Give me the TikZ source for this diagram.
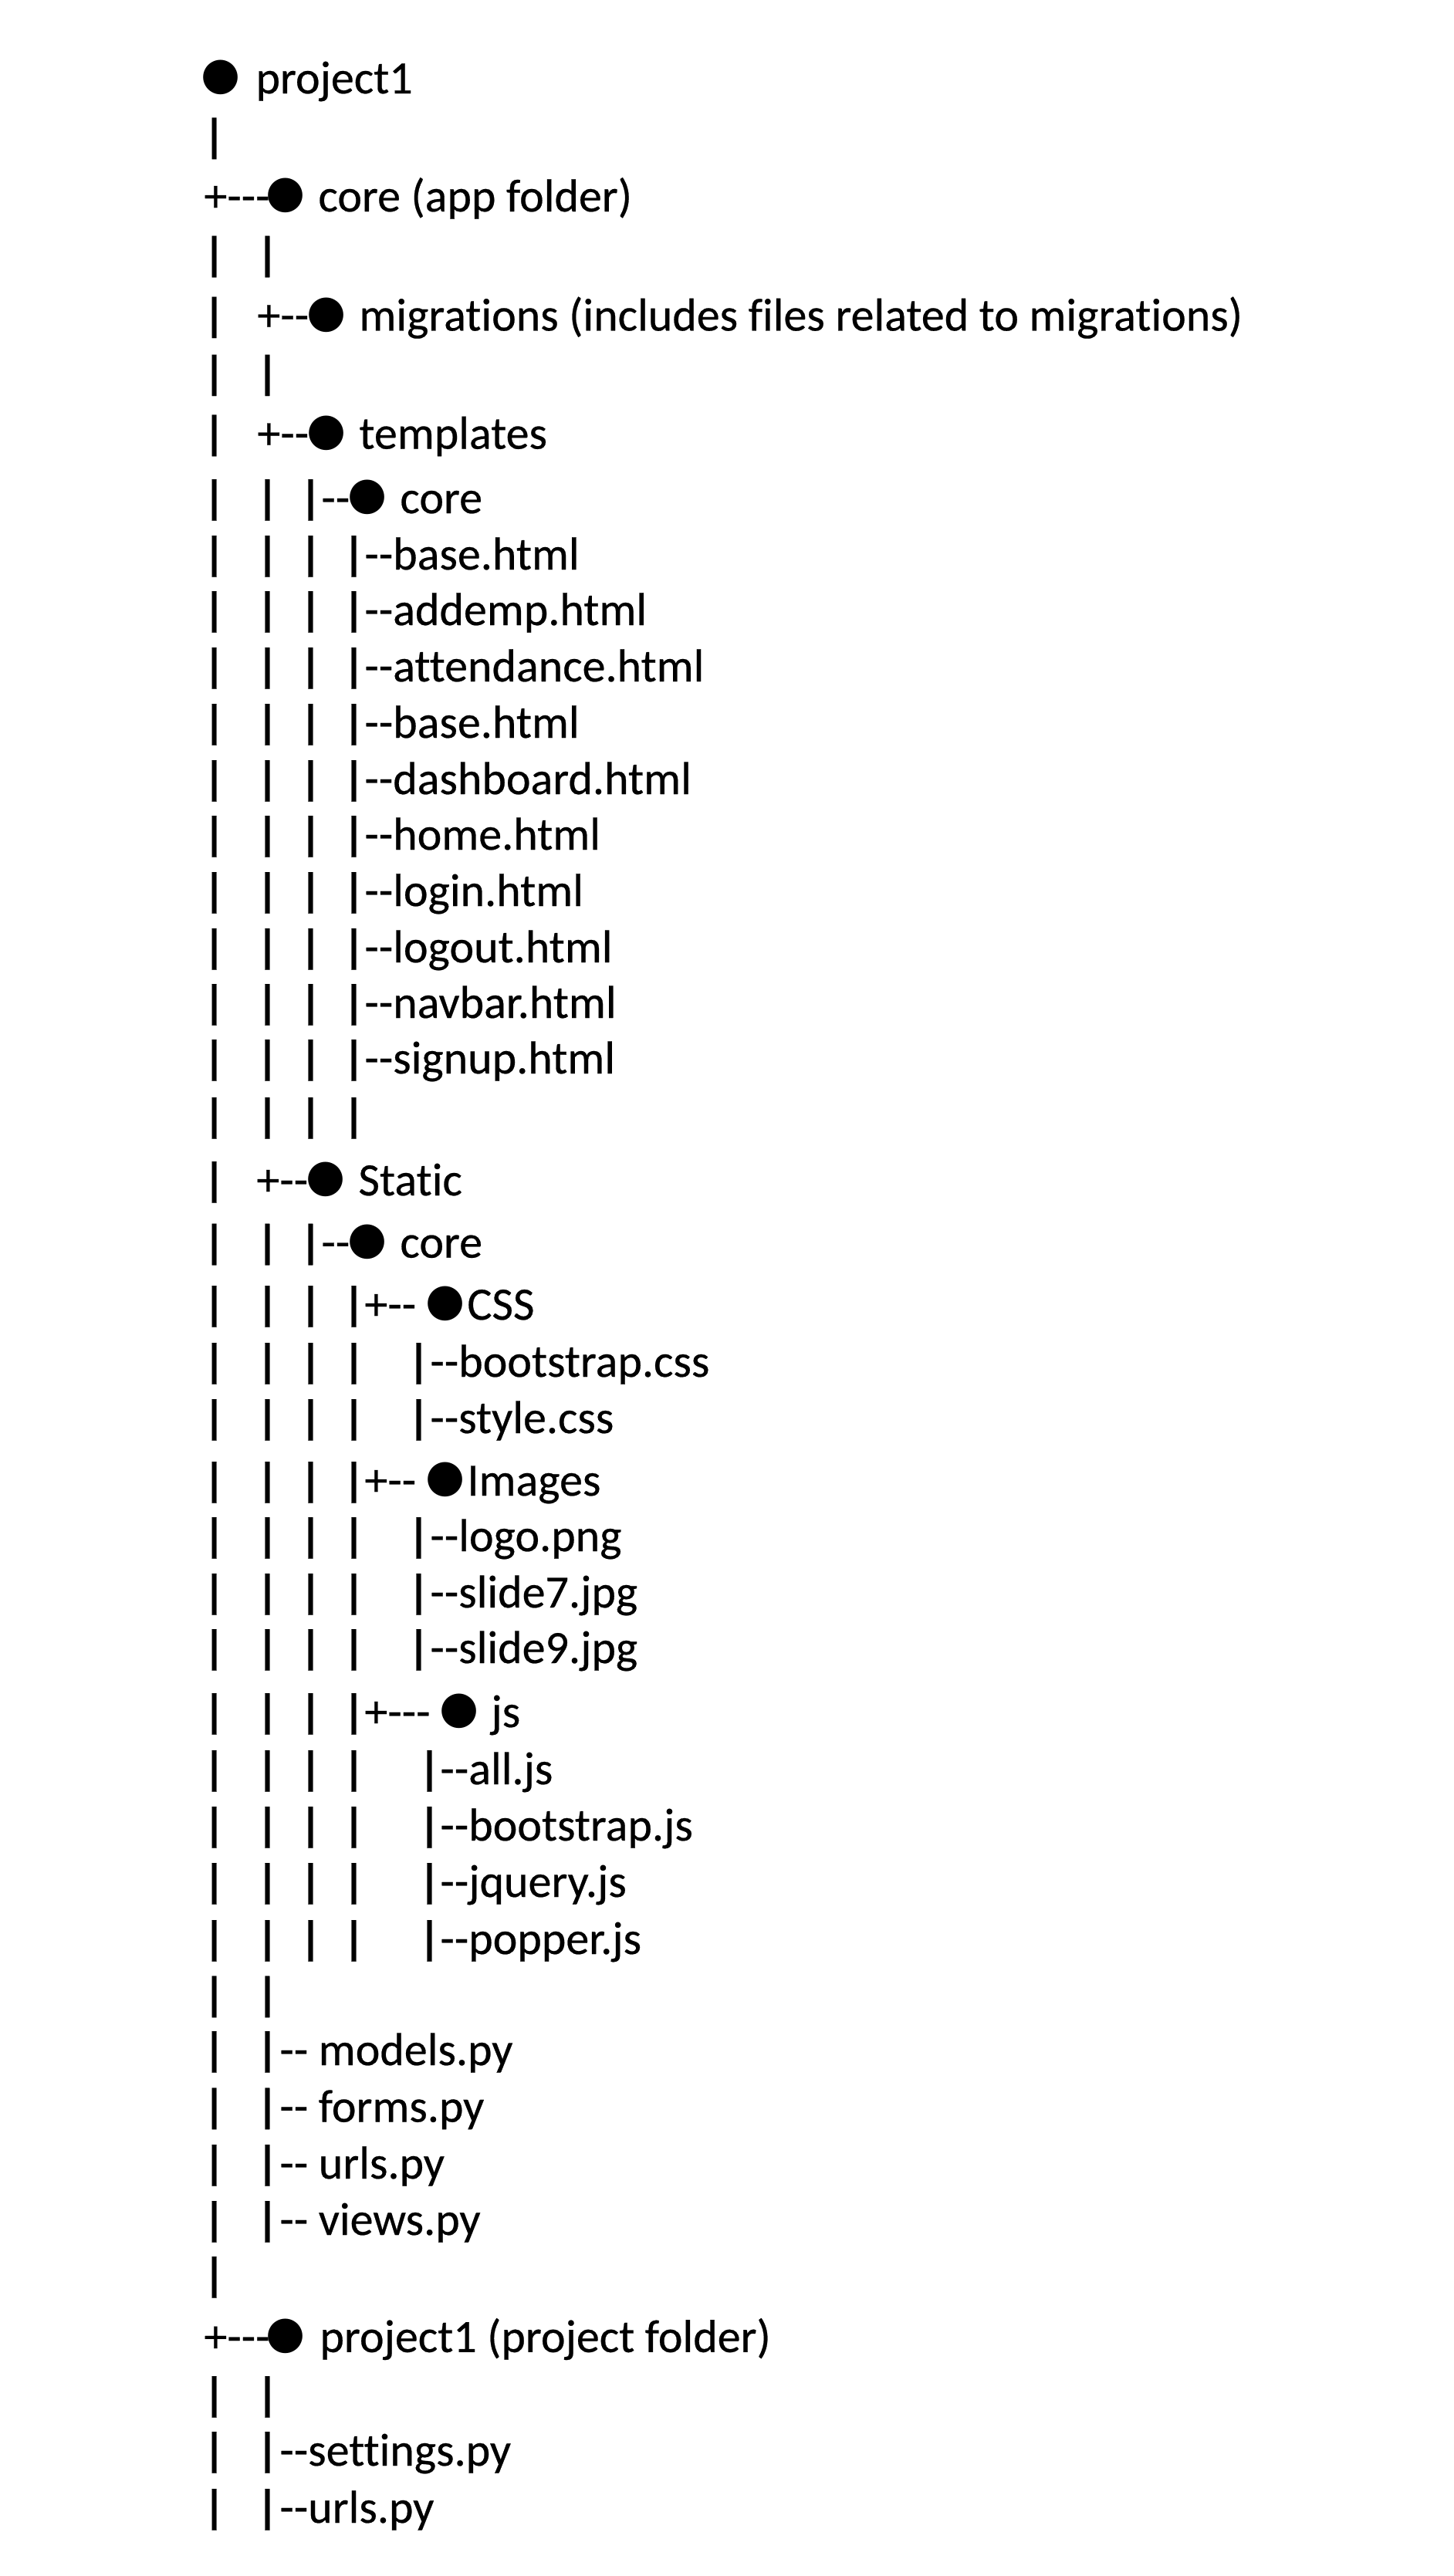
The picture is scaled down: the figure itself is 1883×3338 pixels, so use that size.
\documentclass[tikz,border=0pt]{standalone}
\usepackage{fontspec}
\newfontfamily\treefont{Carlito}[Ligatures={NoCommon,TeXOff},FakeBold=0.4]
\newfontfamily\dotfont{DejaVu Sans}
% one drawing unit = 0.2pt
\newlength\px \setlength\px{0.2pt}
% a bar centred at #1, and a text run starting at #1, both on the row's baseline
\newcommand\pp[1]{\makebox[0pt][l]{\hspace*{#1\px}\makebox[0pt][c]{\bfseries|}}}
\newcommand\tx[2]{\makebox[0pt][l]{\hspace*{#1\px}#2}}
% the columns of bars that lead a row
\newcommand\cA{\pp{275}}
\newcommand\cB{\pp{275}\pp{344}}
\newcommand\cD{\pp{275}\pp{344}\pp{400}\pp{456}}
\begin{document}
\begin{tikzpicture}[x=0.2pt,y=-0.2pt,
  row/.style={anchor=base west,inner sep=0pt,outer sep=0pt,
    font=\treefont\fontsize{12}{14.4}\selectfont},
  dot/.style={anchor=center,inner sep=0pt,outer sep=0pt,
    font=\dotfont\fontsize{11.7}{12}\selectfont}]
\fill[white] (0,0) rectangle (1883,3338);
\useasboundingbox (0,0) rectangle (1883,3338);

\node[row] (l1) at (0,121) {\tx{329}{project1}};
\node[row] (l2) at (0,196.5) {\cA};
\node[row] (l3) at (0,274) {\tx{262}{+---}\tx{410}{core (app folder)}};
\node[row] (l4) at (0,349.6) {\cB};
\node[row] (l5) at (0,428.4) {\cA\tx{331}{+--}\tx{463}{migrations (includes files related to migrations)}};
\node[row] (l6) at (0,503.4) {\cB};
\node[row] (l7) at (0,581.5) {\cA\tx{331}{+--}\tx{463}{templates}};
\node[row] (l8) at (0,665) {\cB\pp{400}\tx{414}{--}\tx{516}{core}};
\node[row] (l9) at (0,738) {\cD\tx{470}{--base.html}};
\node[row] (l10) at (0,810) {\cD\tx{470}{--addemp.html}};
\node[row] (l11) at (0,883) {\cD\tx{470}{--attendance.html}};
\node[row] (l12) at (0,956) {\cD\tx{470}{--base.html}};
\node[row] (l13) at (0,1029) {\cD\tx{470}{--dashboard.html}};
\node[row] (l14) at (0,1101) {\cD\tx{470}{--home.html}};
\node[row] (l15) at (0,1174) {\cD\tx{470}{--login.html}};
\node[row] (l16) at (0,1247) {\cD\tx{470}{--logout.html}};
\node[row] (l17) at (0,1319) {\cD\tx{470}{--navbar.html}};
\node[row] (l18) at (0,1391) {\cD\tx{470}{--signup.html}};
\node[row] (l19) at (0,1466) {\cD};
\node[row] (l20) at (0,1549) {\cA\tx{330}{+--}\tx{462}{Static}};
\node[row] (l21) at (0,1629.6) {\cB\pp{400}\tx{414}{--}\tx{516}{core}};
\node[row] (l22) at (0,1710) {\cD\tx{470}{+--}\tx{603}{CSS}};
\node[row] (l23) at (0,1784) {\cD\pp{540}\tx{555}{--bootstrap.css}};
\node[row] (l24) at (0,1857) {\cD\pp{540}\tx{555}{--style.css}};
\node[row] (l25) at (0,1938) {\cD\tx{470}{+--}\tx{603}{Images}};
\node[row] (l26) at (0,2010) {\cD\pp{540}\tx{555}{--logo.png}};
\node[row] (l27) at (0,2083) {\cD\pp{540}\tx{555}{--slide7.jpg}};
\node[row] (l28) at (0,2155) {\cD\pp{540}\tx{555}{--slide9.jpg}};
\node[row] (l29) at (0,2238) {\cD\tx{470}{+---}\tx{634}{js}};
\node[row] (l30) at (0,2312) {\cD\pp{554}\tx{568}{--all.js}};
\node[row] (l31) at (0,2385) {\cD\pp{554}\tx{568}{--bootstrap.js}};
\node[row] (l32) at (0,2458) {\cD\pp{554}\tx{568}{--jquery.js}};
\node[row] (l33) at (0,2532) {\cD\pp{554}\tx{568}{--popper.js}};
\node[row] (l34) at (0,2604.5) {\cB};
\node[row] (l35) at (0,2676) {\cB\tx{360}{-- models.py}};
\node[row] (l36) at (0,2749.5) {\cB\tx{360}{-- forms.py}};
\node[row] (l37) at (0,2823) {\cB\tx{360}{-- urls.py}};
\node[row] (l38) at (0,2896) {\cB\tx{360}{-- views.py}};
\node[row] (l39) at (0,2968) {\cA};
\node[row] (l40) at (0,3047.8) {\tx{262}{+---}\tx{412}{project1 (project folder)}};
\node[row] (l41) at (0,3123) {\cB};
\node[row] (l42) at (0,3195) {\cB\tx{360}{--settings.py}};
\node[row] (l43) at (0,3269) {\cB\tx{360}{--urls.py}};

% folder bullets, each sitting on its row's baseline
\node[dot] (b1) at (286.5,100.5) {●};
\node[dot] (b3) at (370,253.5) {●};
\node[dot] (b5) at (423,407.9) {●};
\node[dot] (b7) at (423,561) {●};
\node[dot] (b8) at (476,644.5) {●};
\node[dot] (b20) at (422.5,1528.5) {●};
\node[dot] (b21) at (476,1609.1) {●};
\node[dot] (b22) at (577,1689.5) {●};
\node[dot] (b25) at (577,1917.5) {●};
\node[dot] (b29) at (595,2217.5) {●};
\node[dot] (b40) at (370.5,3027.3) {●};
\end{tikzpicture}
\end{document}
